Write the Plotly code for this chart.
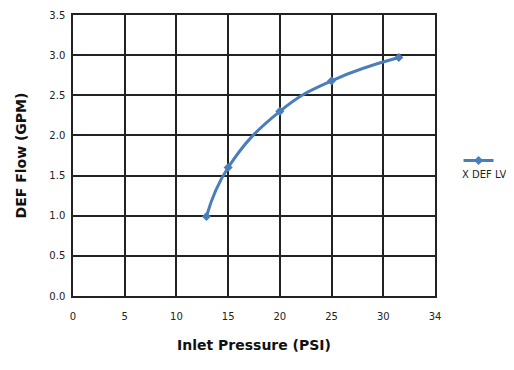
import plotly.graph_objects as go

# Data
pressure_psi = [12.9, 15, 20, 25, 31.5]
flow_gpm = [0.99, 1.6, 2.3, 2.68, 2.97]
series_name = "X DEF LV"

x_tickvals = [0, 5, 10, 15, 20, 25, 30, 35]
x_ticktext = ["0", "5", "10", "15", "20", "25", "30", "34"]
y_tickvals = [0, 0.5, 1.0, 1.5, 2.0, 2.5, 3.0, 3.5]
y_ticktext = ["0.0", "0.5", "1.0", "1.5", "2.0", "2.5", "3.0", "3.5"]

blue = "#4A7EBB"
font = "DejaVu Sans"

fig = go.Figure()
fig.add_trace(go.Scatter(
    x=pressure_psi, y=flow_gpm, name=" ",
    mode="lines+markers",
    line=dict(color=blue, width=3, shape="spline", smoothing=1.3),
    marker=dict(symbol="diamond", size=7, color=blue),
    hovertext=series_name,
))

# page body has an 8px default margin, so the figure is drawn 8px in
fig.update_layout(
    width=506, height=362,
    margin=dict(l=65, r=77, t=7, b=74),
    paper_bgcolor="white", plot_bgcolor="white",
    font=dict(family=font, size=10, color="#222"),
    showlegend=True,
    legend=dict(x=1.065, xanchor="left", y=0.482, yanchor="middle",
                bgcolor="rgba(0,0,0,0)", borderwidth=0, itemwidth=30,
                font=dict(size=10)),
    annotations=[dict(text=series_name, xref="paper", yref="paper",
                      x=1.134, y=0.432, xanchor="center", yanchor="middle",
                      showarrow=False, font=dict(family=font, size=10, color="#222"))],
)

fig.update_xaxes(
    range=[0, 35], tickvals=x_tickvals, ticktext=x_ticktext,
    automargin=False,
    showgrid=True, gridcolor="#222", gridwidth=1.5,
    showline=True, linecolor="#222", linewidth=1.5, mirror=True,
    zeroline=False,
    ticks="outside", ticklen=10, tickcolor="rgba(0,0,0,0)",
    title=dict(text="Inlet Pressure (PSI)", font=dict(family=font, size=14, color="#111", weight="bold"), standoff=19),
)
fig.update_yaxes(
    range=[0, 3.5], tickvals=y_tickvals, ticktext=y_ticktext,
    automargin=False,
    showgrid=True, gridcolor="#222", gridwidth=1.5,
    showline=True, linecolor="#222", linewidth=1.5, mirror=True,
    zeroline=False,
    ticks="outside", ticklen=4, tickcolor="rgba(0,0,0,0)",
    title=dict(text="DEF Flow (GPM)", font=dict(family=font, size=14, color="#111", weight="bold"), standoff=19),
)

fig.write_html("out.html")
